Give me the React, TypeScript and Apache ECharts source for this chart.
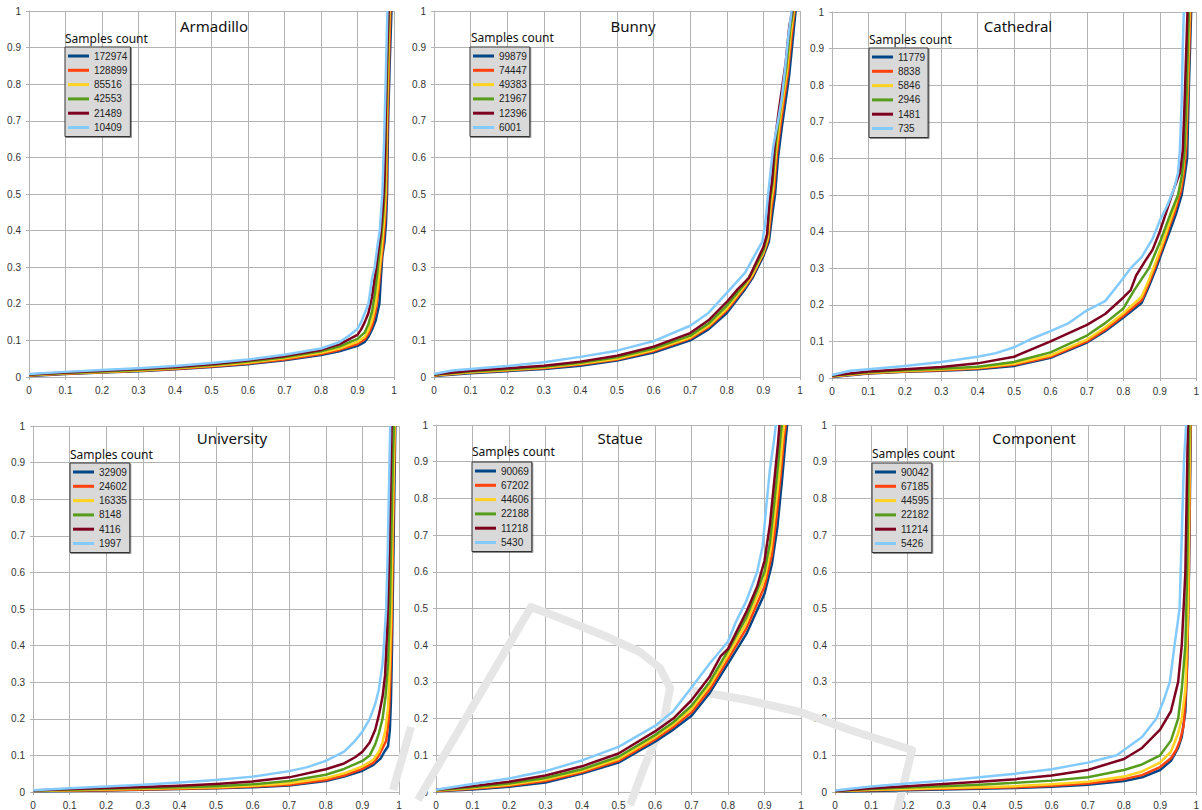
import React, { useEffect, useRef } from "react";
import * as echarts from "echarts";

// ---------- data ----------
const panelTitles = ["Armadillo", "Bunny", "Cathedral", "University", "Statue", "Component"];
const legendTitle = "Samples count";
const xTicks = [0, 0.1, 0.2, 0.3, 0.4, 0.5, 0.6, 0.7, 0.8, 0.9, 1];

const armadilloCounts = ["172974", "128899", "85516", "42553", "21489", "10409"];
const bunnyCounts = ["99879", "74447", "49383", "21967", "12396", "6001"];
const cathedralCounts = ["11779", "8838", "5846", "2946", "1481", "735"];
const universityCounts = ["32909", "24602", "16335", "8148", "4116", "1997"];
const statueCounts = ["90069", "67202", "44606", "22188", "11218", "5430"];
const componentCounts = ["90042", "67185", "44595", "22182", "11214", "5426"];

// Armadillo
const arm1 = [[0,0.003],[0.1,0.008],[0.2,0.012],[0.3,0.016],[0.4,0.021],[0.5,0.027],[0.6,0.035],[0.7,0.046],[0.8,0.06],[0.85,0.07],[0.9,0.085],[0.92,0.096],[0.93,0.11],[0.94,0.13],[0.95,0.155],[0.96,0.2],[0.964,0.27],[0.968,0.33],[0.974,0.37],[0.978,0.42],[0.981,0.5],[0.984,0.7],[0.988,0.85],[0.993,1]];
const arm2 = [[0,0.004],[0.1,0.009],[0.2,0.013],[0.3,0.017],[0.4,0.022],[0.5,0.029],[0.6,0.037],[0.7,0.048],[0.8,0.063],[0.85,0.074],[0.9,0.09],[0.92,0.103],[0.93,0.118],[0.94,0.14],[0.95,0.18],[0.958,0.24],[0.963,0.3],[0.97,0.36],[0.975,0.42],[0.979,0.5],[0.982,0.7],[0.986,0.85],[0.99,1]];
const arm3 = [[0,0.005],[0.1,0.01],[0.2,0.014],[0.3,0.018],[0.4,0.024],[0.5,0.031],[0.6,0.039],[0.7,0.051],[0.8,0.066],[0.85,0.078],[0.9,0.096],[0.92,0.11],[0.93,0.128],[0.94,0.155],[0.95,0.2],[0.956,0.25],[0.961,0.3],[0.968,0.37],[0.973,0.43],[0.977,0.5],[0.98,0.7],[0.984,0.85],[0.988,1]];
const arm4 = [[0,0.006],[0.1,0.011],[0.2,0.015],[0.3,0.02],[0.4,0.025],[0.5,0.033],[0.6,0.042],[0.7,0.054],[0.8,0.07],[0.85,0.083],[0.9,0.104],[0.92,0.122],[0.93,0.145],[0.94,0.18],[0.948,0.23],[0.954,0.28],[0.958,0.32],[0.965,0.38],[0.971,0.45],[0.975,0.52],[0.978,0.7],[0.982,0.85],[0.986,1]];
const arm5 = [[0,0.007],[0.1,0.012],[0.2,0.017],[0.3,0.022],[0.4,0.027],[0.5,0.035],[0.6,0.045],[0.7,0.057],[0.8,0.074],[0.85,0.089],[0.9,0.115],[0.91,0.13],[0.92,0.15],[0.93,0.175],[0.94,0.22],[0.95,0.29],[0.956,0.34],[0.963,0.39],[0.97,0.47],[0.974,0.55],[0.977,0.7],[0.98,0.85],[0.985,1]];
const arm6 = [[0,0.008],[0.1,0.014],[0.2,0.019],[0.3,0.024],[0.4,0.03],[0.5,0.038],[0.6,0.048],[0.7,0.061],[0.8,0.078],[0.85,0.095],[0.88,0.115],[0.9,0.132],[0.91,0.15],[0.92,0.175],[0.93,0.2],[0.94,0.27],[0.947,0.3],[0.955,0.36],[0.961,0.4],[0.968,0.5],[0.973,0.65],[0.977,0.8],[0.982,1]];

// Bunny
const bun1 = [[0,0.003],[0.1,0.01],[0.2,0.016],[0.3,0.022],[0.4,0.031],[0.5,0.045],[0.6,0.067],[0.7,0.1],[0.75,0.13],[0.8,0.175],[0.85,0.24],[0.87,0.27],[0.9,0.33],[0.915,0.37],[0.925,0.45],[0.932,0.5],[0.94,0.6],[0.95,0.68],[0.96,0.75],[0.97,0.82],[0.98,0.92],[0.988,1]];
const bun2 = [[0,0.004],[0.1,0.012],[0.2,0.018],[0.3,0.024],[0.4,0.034],[0.5,0.048],[0.6,0.071],[0.7,0.105],[0.75,0.136],[0.8,0.182],[0.85,0.246],[0.87,0.276],[0.9,0.336],[0.913,0.375],[0.922,0.46],[0.929,0.51],[0.937,0.61],[0.947,0.69],[0.957,0.76],[0.967,0.83],[0.977,0.93],[0.985,1]];
const bun3 = [[0,0.005],[0.1,0.013],[0.2,0.019],[0.3,0.026],[0.4,0.036],[0.5,0.05],[0.6,0.074],[0.7,0.108],[0.75,0.14],[0.8,0.187],[0.85,0.25],[0.87,0.28],[0.9,0.34],[0.912,0.38],[0.92,0.47],[0.927,0.52],[0.935,0.62],[0.945,0.7],[0.955,0.77],[0.965,0.84],[0.975,0.94],[0.983,1]];
const bun4 = [[0,0.006],[0.1,0.015],[0.2,0.021],[0.3,0.028],[0.4,0.039],[0.5,0.054],[0.6,0.078],[0.7,0.113],[0.75,0.146],[0.8,0.195],[0.85,0.256],[0.87,0.287],[0.9,0.345],[0.91,0.385],[0.918,0.48],[0.925,0.53],[0.933,0.63],[0.943,0.71],[0.953,0.78],[0.963,0.85],[0.973,0.95],[0.981,1]];
const bun5 = [[0,0.007],[0.1,0.017],[0.2,0.024],[0.3,0.031],[0.4,0.042],[0.5,0.058],[0.6,0.083],[0.7,0.12],[0.75,0.155],[0.8,0.205],[0.83,0.24],[0.86,0.27],[0.9,0.355],[0.91,0.39],[0.917,0.49],[0.924,0.54],[0.931,0.64],[0.941,0.72],[0.951,0.79],[0.961,0.86],[0.971,0.96],[0.979,1]];
const bun6 = [[0,0.008],[0.05,0.018],[0.1,0.022],[0.2,0.03],[0.3,0.04],[0.4,0.055],[0.5,0.072],[0.6,0.098],[0.7,0.14],[0.75,0.175],[0.8,0.23],[0.85,0.285],[0.875,0.33],[0.897,0.37],[0.905,0.42],[0.913,0.5],[0.927,0.63],[0.94,0.7],[0.95,0.76],[0.96,0.85],[0.968,0.93],[0.977,1]];

// Cathedral
const cat1 = [[0,0.003],[0.1,0.012],[0.2,0.017],[0.3,0.02],[0.4,0.024],[0.5,0.033],[0.6,0.055],[0.7,0.097],[0.75,0.128],[0.8,0.165],[0.85,0.205],[0.87,0.25],[0.89,0.3],[0.91,0.355],[0.927,0.4],[0.945,0.45],[0.96,0.5],[0.968,0.55],[0.975,0.6],[0.98,0.8],[0.986,1]];
const cat2 = [[0,0.004],[0.1,0.013],[0.2,0.018],[0.3,0.021],[0.4,0.026],[0.5,0.036],[0.6,0.058],[0.7,0.1],[0.75,0.132],[0.8,0.17],[0.85,0.212],[0.87,0.258],[0.89,0.31],[0.91,0.365],[0.925,0.41],[0.943,0.46],[0.958,0.51],[0.966,0.56],[0.972,0.62],[0.978,0.8],[0.984,1]];
const cat3 = [[0,0.005],[0.1,0.014],[0.2,0.019],[0.3,0.023],[0.4,0.028],[0.5,0.039],[0.6,0.062],[0.7,0.105],[0.75,0.138],[0.8,0.177],[0.85,0.222],[0.87,0.268],[0.89,0.32],[0.91,0.375],[0.925,0.42],[0.942,0.47],[0.956,0.52],[0.964,0.57],[0.97,0.64],[0.976,0.8],[0.982,1]];
const cat4 = [[0,0.006],[0.1,0.016],[0.2,0.021],[0.3,0.025],[0.4,0.031],[0.5,0.044],[0.6,0.07],[0.7,0.116],[0.75,0.15],[0.8,0.19],[0.83,0.24],[0.85,0.27],[0.87,0.3],[0.9,0.37],[0.93,0.45],[0.95,0.5],[0.96,0.55],[0.968,0.62],[0.973,0.75],[0.98,1]];
const cat5 = [[0,0.007],[0.1,0.018],[0.2,0.024],[0.3,0.03],[0.4,0.04],[0.5,0.058],[0.6,0.1],[0.7,0.145],[0.75,0.175],[0.8,0.22],[0.82,0.24],[0.835,0.28],[0.86,0.32],[0.88,0.35],[0.9,0.4],[0.92,0.46],[0.94,0.52],[0.955,0.56],[0.963,0.62],[0.968,0.75],[0.976,1]];
const cat6 = [[0,0.008],[0.05,0.02],[0.1,0.024],[0.2,0.033],[0.3,0.044],[0.4,0.058],[0.45,0.068],[0.5,0.084],[0.55,0.108],[0.6,0.128],[0.65,0.15],[0.7,0.185],[0.75,0.21],[0.79,0.26],[0.82,0.3],[0.85,0.33],[0.88,0.38],[0.9,0.43],[0.92,0.47],[0.94,0.52],[0.95,0.56],[0.955,0.62],[0.96,0.75],[0.963,0.9],[0.966,1]];

// University
const uni1 = [[0,0.002],[0.1,0.003],[0.2,0.004],[0.3,0.006],[0.4,0.008],[0.5,0.01],[0.6,0.013],[0.7,0.018],[0.8,0.03],[0.85,0.042],[0.9,0.058],[0.93,0.074],[0.95,0.092],[0.96,0.11],[0.97,0.125],[0.975,0.17],[0.978,0.25],[0.981,0.4],[0.984,0.6],[0.987,0.8],[0.99,1]];
const uni2 = [[0,0.003],[0.1,0.004],[0.2,0.005],[0.3,0.007],[0.4,0.009],[0.5,0.011],[0.6,0.015],[0.7,0.02],[0.8,0.033],[0.85,0.045],[0.9,0.063],[0.93,0.08],[0.945,0.1],[0.955,0.12],[0.965,0.14],[0.972,0.2],[0.976,0.3],[0.98,0.45],[0.983,0.65],[0.986,0.85],[0.989,1]];
const uni3 = [[0,0.003],[0.1,0.005],[0.2,0.007],[0.3,0.009],[0.4,0.011],[0.5,0.013],[0.6,0.017],[0.7,0.024],[0.8,0.038],[0.85,0.051],[0.9,0.07],[0.93,0.088],[0.945,0.11],[0.955,0.135],[0.963,0.17],[0.97,0.23],[0.975,0.35],[0.979,0.5],[0.982,0.7],[0.985,0.85],[0.988,1]];
const uni4 = [[0,0.004],[0.1,0.006],[0.2,0.009],[0.3,0.011],[0.4,0.013],[0.5,0.016],[0.6,0.021],[0.7,0.03],[0.8,0.047],[0.85,0.063],[0.9,0.085],[0.92,0.1],[0.935,0.13],[0.945,0.16],[0.955,0.2],[0.963,0.26],[0.97,0.35],[0.975,0.5],[0.979,0.7],[0.983,0.9],[0.986,1]];
const uni5 = [[0,0.004],[0.1,0.008],[0.2,0.011],[0.3,0.014],[0.4,0.017],[0.5,0.022],[0.6,0.029],[0.7,0.04],[0.8,0.062],[0.85,0.078],[0.88,0.095],[0.9,0.11],[0.92,0.135],[0.935,0.17],[0.945,0.21],[0.955,0.26],[0.962,0.32],[0.968,0.45],[0.972,0.6],[0.976,0.8],[0.98,1]];
const uni6 = [[0,0.005],[0.1,0.01],[0.2,0.015],[0.3,0.02],[0.4,0.026],[0.5,0.033],[0.6,0.042],[0.7,0.057],[0.75,0.068],[0.8,0.085],[0.85,0.11],[0.88,0.14],[0.9,0.165],[0.92,0.2],[0.935,0.24],[0.945,0.28],[0.955,0.35],[0.96,0.42],[0.965,0.5],[0.969,0.65],[0.972,0.8],[0.976,1]];

// Statue
const sta1 = [[0,0.002],[0.1,0.007],[0.2,0.014],[0.3,0.026],[0.4,0.05],[0.5,0.08],[0.6,0.137],[0.65,0.17],[0.7,0.208],[0.75,0.27],[0.8,0.35],[0.85,0.43],[0.9,0.54],[0.92,0.62],[0.935,0.72],[0.948,0.85],[0.957,0.95],[0.962,1]];
const sta2 = [[0,0.003],[0.1,0.009],[0.2,0.017],[0.3,0.03],[0.4,0.054],[0.5,0.085],[0.6,0.143],[0.65,0.177],[0.7,0.217],[0.75,0.28],[0.8,0.362],[0.85,0.445],[0.9,0.56],[0.92,0.645],[0.933,0.75],[0.945,0.87],[0.953,0.96],[0.958,1]];
const sta3 = [[0,0.004],[0.1,0.011],[0.2,0.02],[0.3,0.034],[0.4,0.058],[0.5,0.09],[0.6,0.149],[0.65,0.184],[0.7,0.226],[0.75,0.29],[0.8,0.373],[0.85,0.46],[0.9,0.58],[0.917,0.66],[0.93,0.77],[0.942,0.88],[0.95,0.97],[0.954,1]];
const sta4 = [[0,0.005],[0.1,0.013],[0.2,0.023],[0.3,0.038],[0.4,0.062],[0.5,0.096],[0.6,0.155],[0.65,0.19],[0.7,0.235],[0.75,0.3],[0.8,0.385],[0.85,0.475],[0.9,0.6],[0.915,0.68],[0.927,0.79],[0.938,0.9],[0.945,0.98],[0.948,1]];
const sta5 = [[0,0.006],[0.1,0.016],[0.2,0.028],[0.3,0.045],[0.4,0.07],[0.5,0.105],[0.6,0.165],[0.65,0.2],[0.7,0.25],[0.75,0.315],[0.78,0.37],[0.8,0.39],[0.85,0.49],[0.88,0.56],[0.9,0.63],[0.915,0.73],[0.927,0.85],[0.937,0.95],[0.941,1]];
const sta6 = [[0,0.006],[0.1,0.022],[0.2,0.037],[0.3,0.057],[0.4,0.086],[0.5,0.123],[0.6,0.18],[0.65,0.22],[0.7,0.285],[0.75,0.35],[0.8,0.41],[0.82,0.46],[0.85,0.52],[0.88,0.6],[0.895,0.67],[0.905,0.78],[0.915,0.88],[0.925,0.95],[0.931,1]];

// Component
const com1 = [[0,0.001],[0.1,0.003],[0.2,0.005],[0.3,0.007],[0.4,0.009],[0.5,0.011],[0.6,0.014],[0.7,0.02],[0.8,0.03],[0.85,0.04],[0.9,0.06],[0.93,0.085],[0.95,0.12],[0.96,0.15],[0.97,0.22],[0.975,0.35],[0.98,0.6],[0.985,1]];
const com2 = [[0,0.002],[0.1,0.005],[0.2,0.007],[0.3,0.009],[0.4,0.011],[0.5,0.013],[0.6,0.017],[0.7,0.023],[0.8,0.035],[0.85,0.046],[0.9,0.068],[0.93,0.092],[0.945,0.115],[0.955,0.14],[0.965,0.18],[0.973,0.3],[0.979,0.55],[0.984,1]];
const com3 = [[0,0.002],[0.1,0.006],[0.2,0.008],[0.3,0.011],[0.4,0.013],[0.5,0.016],[0.6,0.021],[0.7,0.028],[0.8,0.042],[0.85,0.056],[0.9,0.08],[0.93,0.11],[0.95,0.16],[0.96,0.2],[0.97,0.28],[0.977,0.5],[0.983,1]];
const com4 = [[0,0.003],[0.1,0.008],[0.2,0.012],[0.3,0.016],[0.4,0.02],[0.5,0.025],[0.6,0.031],[0.7,0.04],[0.8,0.06],[0.85,0.075],[0.9,0.1],[0.93,0.14],[0.95,0.2],[0.96,0.28],[0.97,0.4],[0.975,0.6],[0.981,1]];
const com5 = [[0,0.003],[0.1,0.01],[0.2,0.016],[0.3,0.022],[0.4,0.028],[0.5,0.035],[0.6,0.045],[0.7,0.06],[0.8,0.09],[0.85,0.12],[0.9,0.17],[0.93,0.22],[0.95,0.3],[0.96,0.4],[0.97,0.6],[0.977,1]];
const com6 = [[0,0.004],[0.1,0.015],[0.2,0.023],[0.3,0.031],[0.4,0.04],[0.5,0.05],[0.6,0.062],[0.7,0.08],[0.78,0.1],[0.85,0.15],[0.89,0.2],[0.91,0.25],[0.927,0.3],[0.94,0.4],[0.954,0.5],[0.96,0.7],[0.966,0.9],[0.972,1]];

const panelCounts = [armadilloCounts, bunnyCounts, cathedralCounts, universityCounts, statueCounts, componentCounts];
const panelCurves = [
  [arm1, arm2, arm3, arm4, arm5, arm6],
  [bun1, bun2, bun3, bun4, bun5, bun6],
  [cat1, cat2, cat3, cat4, cat5, cat6],
  [uni1, uni2, uni3, uni4, uni5, uni6],
  [sta1, sta2, sta3, sta4, sta5, sta6],
  [com1, com2, com3, com4, com5, com6],
];

// ---------- layout & style ----------
const seriesColors = ["#004586", "#ff420e", "#ffd320", "#579d1c", "#7e0021", "#83caff"];
const grids = [
  { left: 29, top: 11, width: 365, height: 366 },
  { left: 434, top: 11, width: 366, height: 366 },
  { left: 832, top: 12, width: 366, height: 366 },
  { left: 33, top: 426, width: 366, height: 367 },
  { left: 436, top: 425, width: 365, height: 367 },
  { left: 835, top: 425, width: 365, height: 367 },
];
const titlePos = [[214, 26], [633, 26], [1018, 26], [232, 438], [620, 438], [1034, 438]];
const legendPos = [[65, 47], [470, 47], [869, 48], [70, 463], [472, 462], [872, 463]];
const legendTitlePos = [[65, 38], [471, 37], [869, 39], [70, 454], [472, 451], [872, 453]];

const GRID_COLOR = "#b3b3b3";
const LABEL_FONT = "'Liberation Sans', Arial, sans-serif";
const TITLE_FONT = "'Noto Sans', 'Open Sans', sans-serif";

export default function App() {
  const ref = useRef<HTMLDivElement>(null);
  useEffect(() => {
    if (!ref.current) return;
    const chart = echarts.init(ref.current, null, { renderer: "svg" });

    const xAxis: any[] = [];
    const yAxis: any[] = [];
    const series: any[] = [];
    const legend: any[] = [];
    const graphic: any[] = [];

    grids.forEach((g, i) => {
      const axisCommon = {
        type: "value",
        min: xTicks[0],
        max: xTicks[xTicks.length - 1],
        interval: 0.1,
        gridIndex: i,
        axisLine: { show: true, lineStyle: { color: GRID_COLOR, width: 1 } },
        axisTick: { show: true, length: 3, lineStyle: { color: GRID_COLOR } },
        splitLine: { show: true, lineStyle: { color: GRID_COLOR, width: 1 } },
        axisLabel: { fontSize: 10, color: "#333", fontFamily: LABEL_FONT, margin: 8 },
      };
      xAxis.push({ ...axisCommon });
      yAxis.push({ ...axisCommon });

      panelCurves[i].forEach((d, k) => {
        series.push({
          type: "line",
          name: panelCounts[i][k],
          xAxisIndex: i,
          yAxisIndex: i,
          data: d,
          showSymbol: false,
          symbol: "none",
          clip: true,
          lineStyle: { color: seriesColors[k], width: 2.5, join: "round" },
          itemStyle: { color: seriesColors[k] },
          z: 3,
        });
      });

      legend.push({
        data: panelCounts[i],
        orient: "vertical",
        left: legendPos[i][0],
        top: legendPos[i][1],
        padding: [2, 3, 2, 3],
        itemGap: 0.3,
        itemWidth: 21,
        itemHeight: 3,
        icon: "rect",
        backgroundColor: "#d9d9d9",
        borderColor: "#333",
        borderWidth: 1,
        shadowColor: "rgba(0,0,0,0.45)",
        shadowBlur: 0,
        shadowOffsetX: 1,
        shadowOffsetY: 1,
        selectedMode: false,
        textStyle: { fontSize: 10, color: "#222", fontFamily: LABEL_FONT, lineHeight: 14 },
      });

      graphic.push({
        type: "text",
        x: titlePos[i][0],
        y: titlePos[i][1],
        z: 10,
        style: {
          text: panelTitles[i],
          font: `15px ${TITLE_FONT}`,
          fill: "#111",
          textAlign: "center",
          textVerticalAlign: "middle",
          align: "center",
          verticalAlign: "middle",
        },
      });
      graphic.push({
        type: "text",
        x: legendTitlePos[i][0],
        y: legendTitlePos[i][1],
        z: 10,
        style: {
          text: legendTitle,
          font: `12px ${TITLE_FONT}`,
          fill: "#111",
          textAlign: "left",
          textVerticalAlign: "middle",
          align: "left",
          verticalAlign: "middle",
        },
      });
    });

    // faint publisher watermark strokes
    const wm = { stroke: "#e6e6e6", lineWidth: 8, fill: null, lineJoin: "round", lineCap: "butt" };
    graphic.push({
      type: "polyline", z: 1, silent: true,
      shape: { points: [[418, 800], [531, 607], [565, 620], [605, 636], [640, 652], [660, 668], [670, 688], [664, 720], [645, 765], [630, 805]] },
      style: wm,
    });
    graphic.push({
      type: "polyline", z: 1, silent: true,
      shape: { points: [[690, 690], [747, 700], [800, 712], [850, 730], [912, 750], [897, 812]] },
      style: wm,
    });
    graphic.push({
      type: "polyline", z: 1, silent: true,
      shape: { points: [[411, 727], [393, 790]] },
      style: wm,
    });

    chart.setOption({
      animation: false,
      backgroundColor: "#ffffff",
      grid: grids.map((g) => ({ ...g, containLabel: false })),
      xAxis,
      yAxis,
      series,
      legend,
      graphic,
    });
    return () => chart.dispose();
  }, []);

  return (
    <div
      ref={ref}
      style={{ position: "absolute", left: 0, top: 0, width: 1202, height: 810, background: "#fff" }}
    />
  );
}
